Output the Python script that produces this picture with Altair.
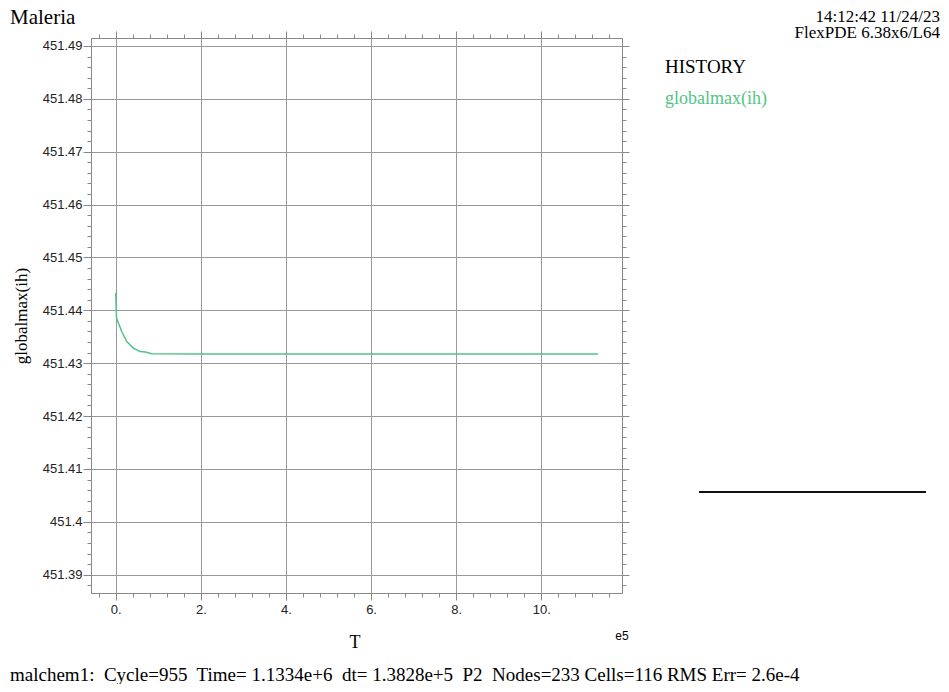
import altair as alt
import pandas as pd

# ---- data ----
T_values = [0, 1900, 6100, 14100, 25900, 41400, 57100, 70000, 84600, 200000, 500000, 800000, 1133400]
globalmax_ih = [451.44331, 451.43858, 451.43763, 451.43599, 451.43410, 451.43285, 451.43221,
                451.43210, 451.43178, 451.43172, 451.43172, 451.43172, 451.43172]

x_major = [0, 200000, 400000, 600000, 800000, 1000000]
x_minor = [-40000, 40000, 80000, 120000, 160000, 240000, 280000, 320000, 360000,
           440000, 480000, 520000, 560000, 640000, 680000, 720000, 760000,
           840000, 880000, 920000, 960000, 1040000, 1080000, 1120000, 1160000]
y_major = [451.39, 451.40, 451.41, 451.42, 451.43, 451.44, 451.45, 451.46, 451.47, 451.48, 451.49]
y_minor = [451.388, 451.392, 451.394, 451.396, 451.398, 451.402, 451.404, 451.406, 451.408,
           451.412, 451.414, 451.416, 451.418, 451.422, 451.424, 451.426, 451.428,
           451.432, 451.434, 451.436, 451.438, 451.442, 451.444, 451.446, 451.448,
           451.452, 451.454, 451.456, 451.458, 451.462, 451.464, 451.466, 451.468,
           451.472, 451.474, 451.476, 451.478, 451.482, 451.484, 451.486, 451.488, 451.490]
y_minor = [v for v in y_minor if v not in y_major]

x_domain = [-58080, 1189700]
y_domain = [451.38654, 451.4915]

title_text = "Maleria"
stamp_lines = ["14:12:42 11/24/23", "FlexPDE 6.38x6/L64"]
legend_title = "HISTORY"
series_name = "globalmax(ih)"
x_title = "T"
x_exp = "e5"
footer = ("malchem1:\u00a0 Cycle=955\u00a0 Time= 1.1334e+6\u00a0 dt= 1.3828e+5\u00a0 P2\u00a0 "
          "Nodes=233 Cells=116 RMS Err= 2.6e-4")

GREEN = "#52c486"
GRID = "#999999"
FRAME = "#888888"
SERIF = "Liberation Serif"
SANS = "Liberation Sans"

df = pd.DataFrame({"T": T_values, "v": globalmax_ih})

x_all = sorted(x_major + x_minor)
y_all = sorted(y_major + y_minor)

x_major_test = "abs(datum.value % 200000) < 1"
y_major_test = "abs(datum.value*100 - round(datum.value*100)) < 1e-6"

xscale = alt.Scale(domain=x_domain, nice=False, zero=False)
yscale = alt.Scale(domain=y_domain, nice=False, zero=False)

base = alt.Chart(df)

line = base.mark_line(color=GREEN, strokeWidth=1.5, clip=True).encode(
    x=alt.X("T:Q", scale=xscale, axis=alt.Axis(
        orient="bottom", values=x_all, title=None,
        labelExpr=f"({x_major_test}) ? format(datum.value/100000, 'd') + '.' : ''",
        labelFont=SANS, labelFontSize=13, labelColor="#222", labelPadding=3,
        tickSize={"condition": {"test": x_major_test, "value": 7}, "value": 4},
        tickColor=FRAME, domainColor=FRAME, grid=True, gridColor=GRID,
        gridOpacity={"condition": {"test": x_major_test, "value": 1}, "value": 0},
        labelOverlap=False, labelFlush=False)),
    y=alt.Y("v:Q", scale=yscale, axis=alt.Axis(
        orient="left", values=y_all, title=None,
        labelExpr=f"({y_major_test}) ? format(datum.value, '.2~f') : ''",
        labelFont=SANS, labelFontSize=13, labelColor="#222", labelPadding=1,
        tickSize={"condition": {"test": y_major_test, "value": 8}, "value": 4},
        tickColor=FRAME, domainColor=FRAME, grid=True, gridColor=GRID,
        gridOpacity={"condition": {"test": y_major_test, "value": 1}, "value": 0},
        labelOverlap=False, labelFlush=False)),
)

frame2 = base.mark_line(opacity=0).encode(
    x=alt.X("T:Q", scale=xscale, axis=alt.Axis(
        orient="top", values=x_all, title=None, labels=False, grid=False,
        tickSize={"condition": {"test": x_major_test, "value": 7}, "value": 4},
        tickColor=FRAME, domainColor=FRAME)),
    y=alt.Y("v:Q", scale=yscale, axis=alt.Axis(
        orient="right", values=y_all, title=None, labels=False, grid=False,
        tickSize={"condition": {"test": y_major_test, "value": 7}, "value": 4},
        tickColor=FRAME, domainColor=FRAME)),
)

one = pd.DataFrame({"a": [0]})


def txt(text, x, y, size, font=SERIF, align="left", color="black", angle=0, baseline="alphabetic"):
    kw = dict(text=text, font=font, fontSize=size, align=align, baseline=baseline, color=color)
    if angle:
        kw["angle"] = angle
    return alt.Chart(one).mark_text(**kw).encode(x=alt.value(x), y=alt.value(y))


texts = [
    txt(title_text, -81, -14, 21),
    txt(stamp_lines[0], 849, -16, 17, align="right"),
    txt(stamp_lines[1], 849, 0, 17, align="right"),
    txt(legend_title, 574, 35, 19),
    txt(series_name, 574, 66, 18, color=GREEN),
    txt("globalmax(ih)", -69, 278, 17, angle=270, align="center", baseline="middle"),
    txt(x_title, 264, 605, 18, align="center", baseline="middle"),
    txt(x_exp, 531, 598, 12, font=SANS, align="center", baseline="middle"),
    txt(footer, -81, 643, 19),
]

rule = alt.Chart(one).mark_rule(color="#111", strokeWidth=2).encode(
    x=alt.value(608), x2=alt.value(835), y=alt.value(454))

chart = alt.layer(line, frame2, rule, *texts).resolve_axis(
    x="independent", y="independent"
).properties(
    width=531, height=555,
    autosize=alt.AutoSizeParams(type="none"),
    padding={"left": 83, "top": 30, "right": 319, "bottom": 91},
).configure_view(stroke=None).configure(background="white")

chart.save("out.html", embed_options={"renderer": "svg", "actions": False})
